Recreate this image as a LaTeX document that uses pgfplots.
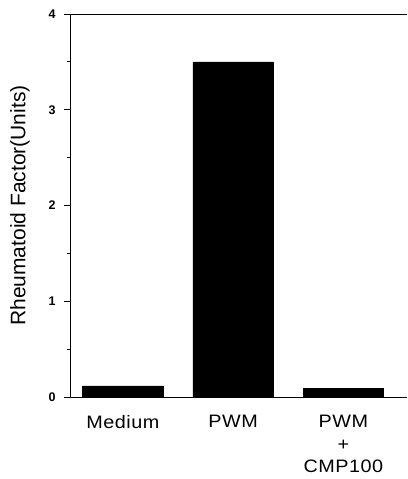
\documentclass[border=0pt]{standalone}
\usepackage{fontspec}
\setmainfont{Liberation Sans}
\usepackage{pgfplots}
\pgfplotsset{compat=1.18}
\begin{document}
\begin{tikzpicture}
\begin{axis}[
  at={(0,0)}, anchor=south west,
  scale only axis, width=337pt, height=383pt,
  xmin=-0.48, xmax=2.577, ymin=0, ymax=4,
  axis y line*=left, axis x line*=bottom,
  axis line style={black, line width=0.9pt, -},
  xtick={0,1,2},
  xticklabels={Medium, PWM, {PWM\\+\\CMP100}},
  xticklabel style={align=center, font=\fontsize{18}{22.5}\selectfont\addfontfeatures{FakeStretch=1.1,LetterSpace=3}, yshift=-9pt},
  x tick style={draw=none},
  ytick={0,1,2,3,4},
  minor ytick={0.5,1.5,2.5,3.5},
  yticklabel style={font=\fontsize{12.5}{13}\selectfont\bfseries, xshift=-5pt},
  tick align=outside,
  major tick length=6pt, minor tick length=3pt,
  y tick style={black, line width=0.8pt},
  /pgf/number format/assume math mode=true,
  ylabel={Rheumatoid Factor(Units)},
  ylabel style={font=\fontsize{21}{24}\selectfont, yshift=12pt},
  clip=false,
]
\addplot[ybar, bar width=0.73, fill=black, draw=black] coordinates {(0,0.115) (1,3.5) (2,0.09)};
\draw[line width=0.9pt] (rel axis cs:0,1) -- (rel axis cs:1,1);
\end{axis}
\pgfresetboundingbox
\path[use as bounding box] (-70pt,-82pt) rectangle (337pt,397pt);
\end{tikzpicture}
\end{document}
